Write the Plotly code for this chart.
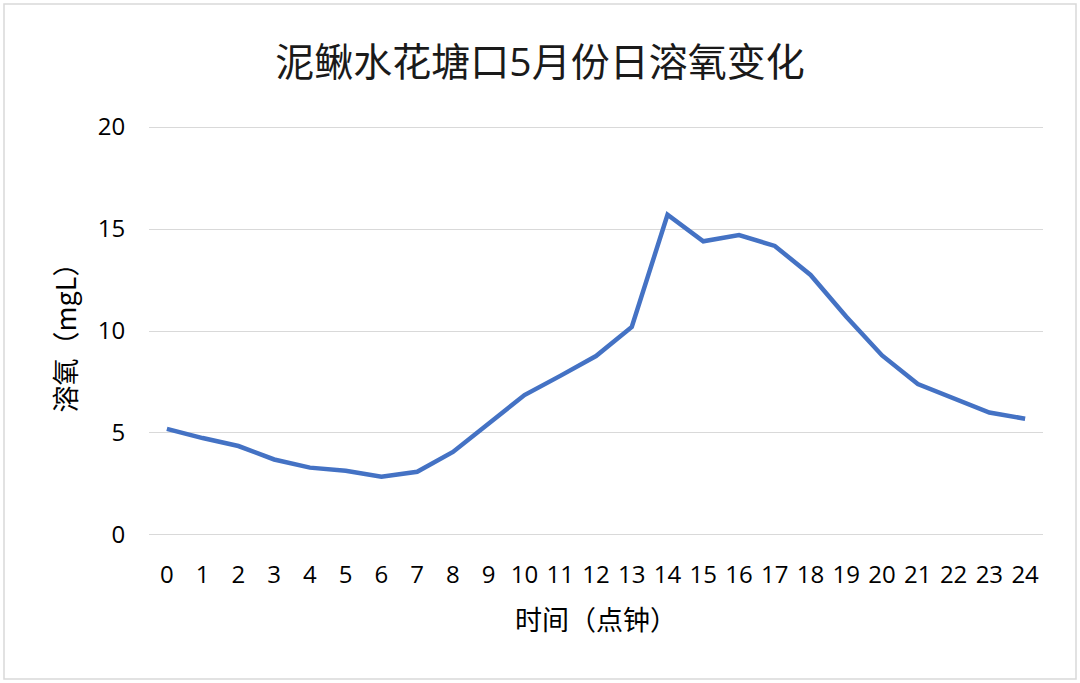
import plotly.graph_objects as go

hours = [str(h) for h in range(25)]
oxygen = [5.2, 4.75, 4.36, 3.7, 3.3, 3.15, 2.85, 3.1, 4.07, 5.5, 6.86, 7.8, 8.77, 10.2,
          15.7, 14.4, 14.7, 14.17, 12.75, 10.7, 8.8, 7.4, 6.7, 6.0, 5.7]
y_ticks = [0, 5, 10, 15, 20]

title_text = "泥鳅水花塘口5月份日溶氧变化"
x_title = "时间（点钟）"
y_title = "溶氧（mgL）"

cjk = "Noto Sans CJK SC, Noto Sans, sans-serif"
num = "Open Sans, Noto Sans CJK SC, sans-serif"

fig = go.Figure()
fig.add_trace(go.Scatter(
    x=hours, y=oxygen, mode="lines",
    line=dict(color="#4472C4", width=4.5),
    hoverinfo="x+y",
))

fig.update_layout(
    width=1080, height=683,
    margin=dict(l=149, r=37, t=124, b=145),
    paper_bgcolor="white", plot_bgcolor="white",
    showlegend=False,
    font=dict(family=cjk, color="#000000"),
    title=dict(text=title_text, x=0.5, xanchor="center", y=0.909, yanchor="middle",
               font=dict(size=39, family=num, color="#1a1a1a")),
    xaxis=dict(
        type="category", range=[-0.5, 24.5],
        showgrid=False, zeroline=False, showline=False,
        ticks="outside", ticklen=15, tickcolor="rgba(0,0,0,0)",
        tickfont=dict(size=24, family=num),
        title=dict(text=x_title, font=dict(size=27, family=cjk), standoff=22),
    ),
    yaxis=dict(
        range=[-0.15, 20.15], tickvals=y_ticks,
        showgrid=True, gridcolor="#D9D9D9", gridwidth=1.3,
        zeroline=False, showline=False,
        ticks="outside", ticklen=18, tickcolor="rgba(0,0,0,0)",
        tickfont=dict(size=24, family=num),
        title=dict(text=y_title, font=dict(size=27, family=cjk), standoff=13),
    ),
    shapes=[dict(type="rect", xref="paper", yref="paper",
                 x0=-145/894, x1=1+33/894, y0=-141/414, y1=1+120/414,
                 line=dict(color="#D9D9D9", width=1.5))],
)

fig.write_html("out.html", config={"displayModeBar": False},
               post_script="document.body.style.margin='0';")
